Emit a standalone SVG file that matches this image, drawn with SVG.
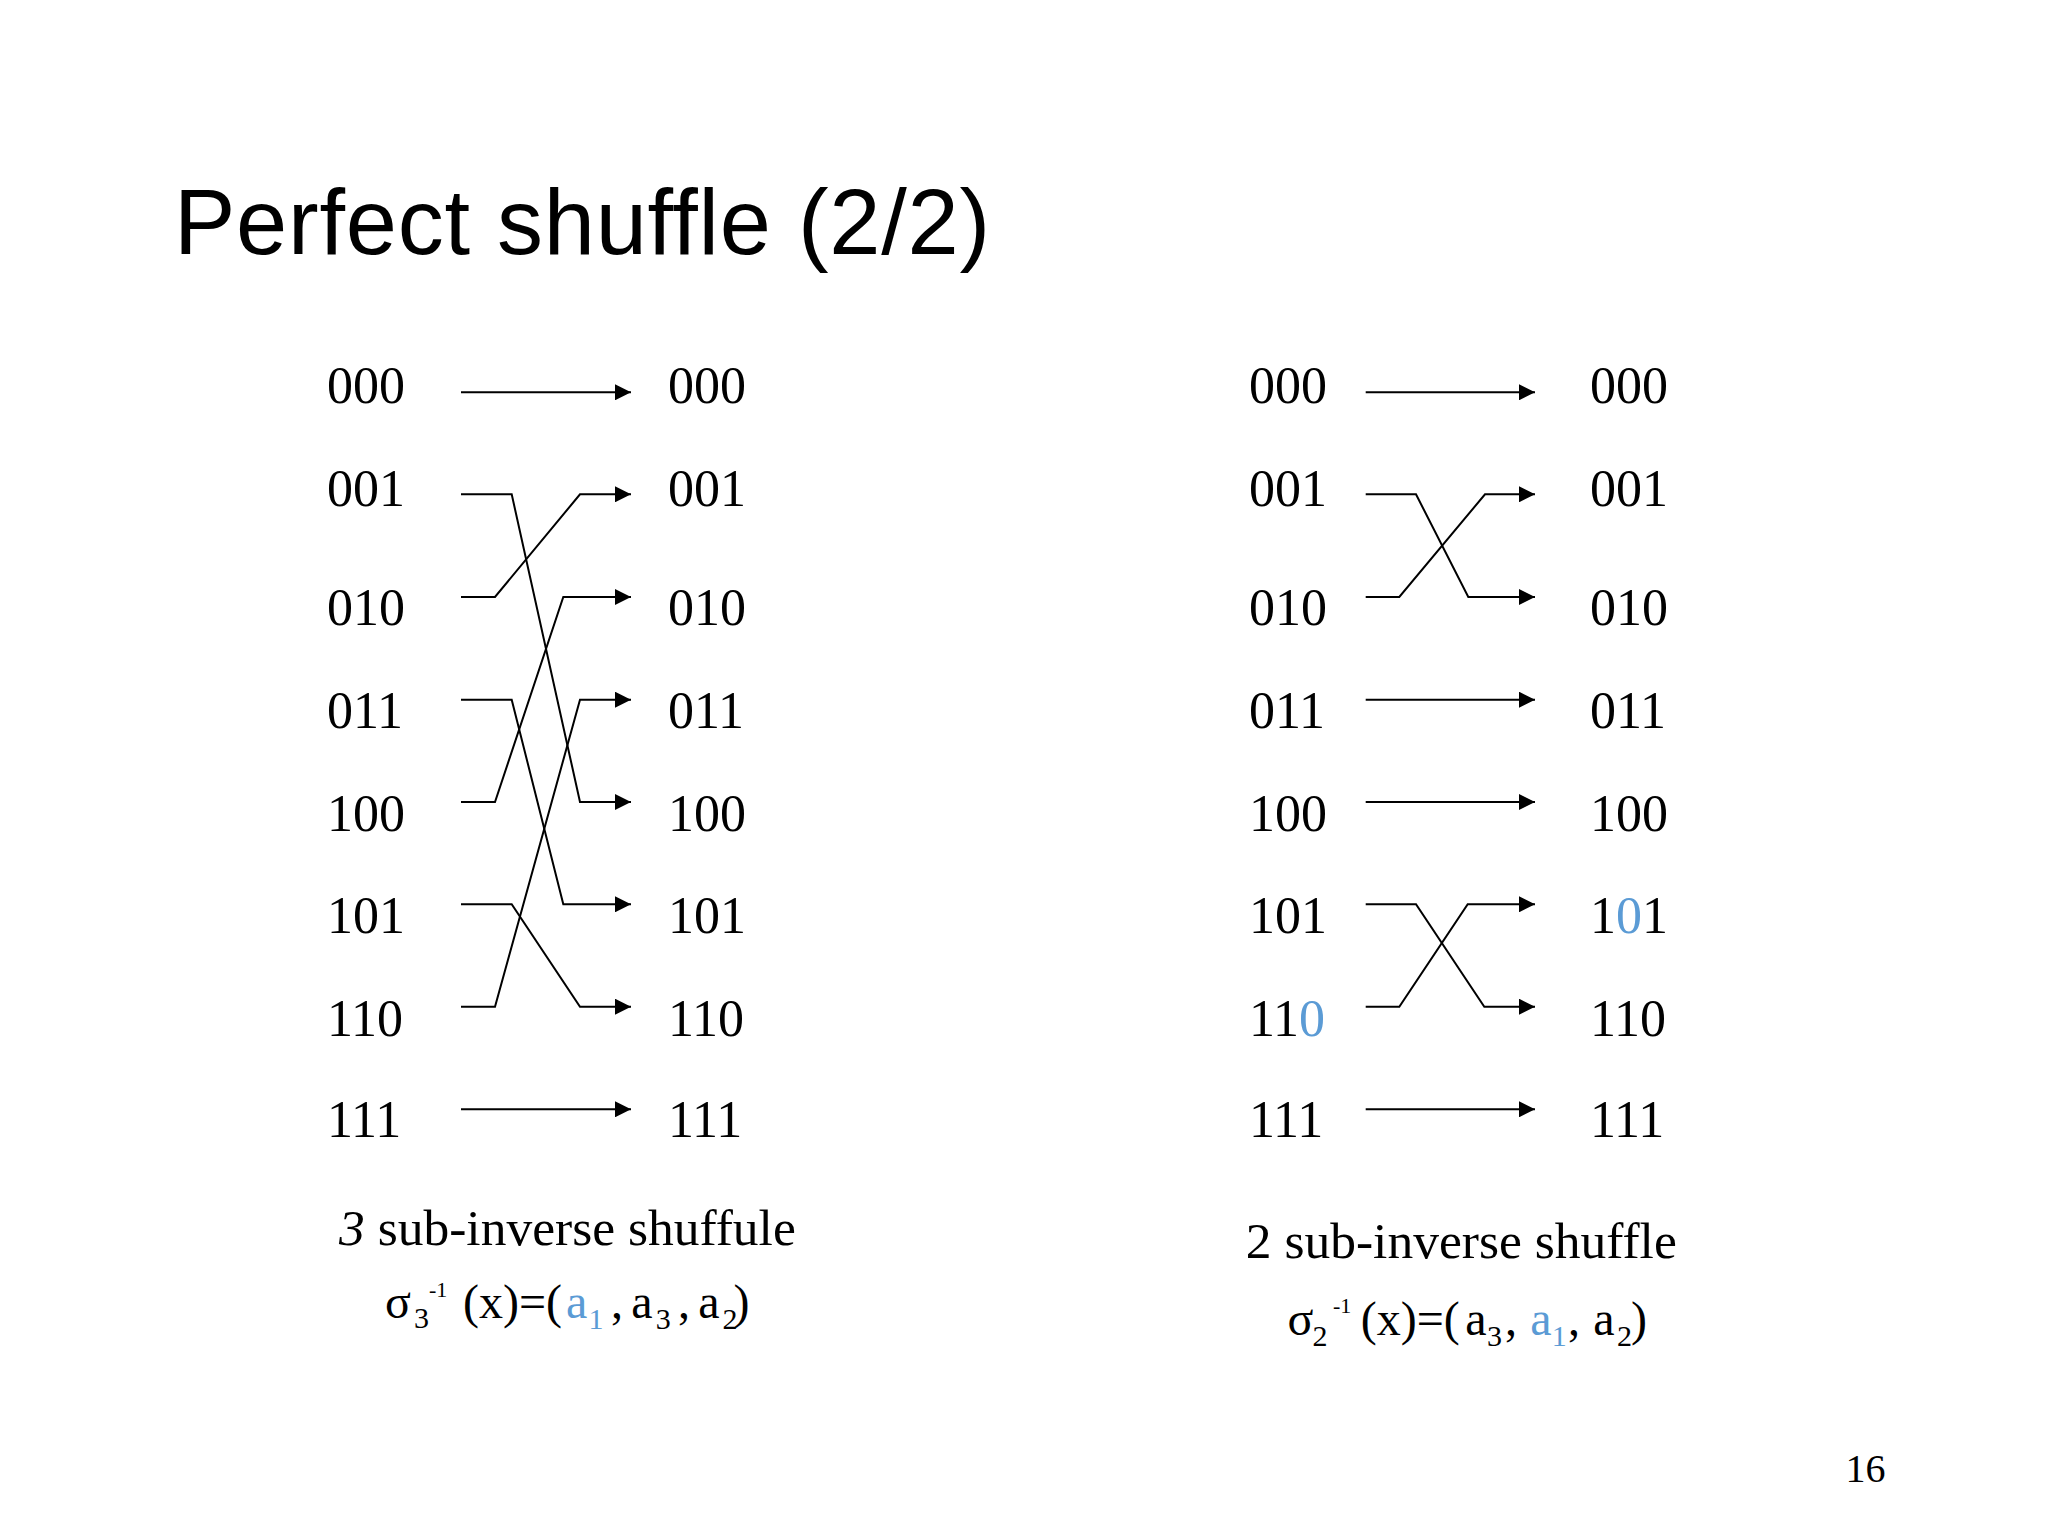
<svg xmlns="http://www.w3.org/2000/svg" width="2048" height="1536" viewBox="0 0 2048 1536">
<defs>
<style>
.t{font-family:"Liberation Serif","Times New Roman",serif;fill:#000}
.n{font-size:52px}
.cap{font-size:51.5px}
.f{font-size:48px}
.sub{font-size:30px}
.sup{font-size:22px}
.blue{fill:#5B9BD5}
.title{font-family:"Liberation Sans",Arial,sans-serif;font-size:92px;letter-spacing:0.75px;fill:#000}
.c{fill:none;stroke:#000;stroke-width:2;marker-end:url(#ah)}
</style>
<marker id="ah" viewBox="0 0 16 16" refX="16" refY="8" markerWidth="16" markerHeight="16" markerUnits="userSpaceOnUse" orient="auto">
<path d="M0,0 L16,8 L0,16 z" fill="#000"/>
</marker>
</defs>
<rect width="2048" height="1536" fill="#fff"/>
<text id="title" class="title" x="174" y="254">Perfect shuffle (2/2)</text>

<g id="left-inputs" class="t n">
<text id="L-in-000" x="327" y="403">000</text>
<text id="L-in-001" x="327" y="506">001</text>
<text id="L-in-010" x="327" y="625">010</text>
<text id="L-in-011" x="327" y="728">011</text>
<text id="L-in-100" x="327" y="831">100</text>
<text id="L-in-101" x="327" y="933">101</text>
<text id="L-in-110" x="327" y="1036">110</text>
<text id="L-in-111" x="327" y="1137">111</text>
</g>
<g id="left-outputs" class="t n">
<text id="L-out-000" x="668" y="403">000</text>
<text id="L-out-001" x="668" y="506">001</text>
<text id="L-out-010" x="668" y="625">010</text>
<text id="L-out-011" x="668" y="728">011</text>
<text id="L-out-100" x="668" y="831">100</text>
<text id="L-out-101" x="668" y="933">101</text>
<text id="L-out-110" x="668" y="1036">110</text>
<text id="L-out-111" x="668" y="1137">111</text>
</g>
<g id="right-inputs" class="t n">
<text id="R-in-000" x="1249" y="403">000</text>
<text id="R-in-001" x="1249" y="506">001</text>
<text id="R-in-010" x="1249" y="625">010</text>
<text id="R-in-011" x="1249" y="728">011</text>
<text id="R-in-100" x="1249" y="831">100</text>
<text id="R-in-101" x="1249" y="933">101</text>
<text id="R-in-110" x="1249" y="1036">11<tspan class="blue">0</tspan></text>
<text id="R-in-111" x="1249" y="1137">111</text>
</g>
<g id="right-outputs" class="t n">
<text id="R-out-000" x="1590" y="403">000</text>
<text id="R-out-001" x="1590" y="506">001</text>
<text id="R-out-010" x="1590" y="625">010</text>
<text id="R-out-011" x="1590" y="728">011</text>
<text id="R-out-100" x="1590" y="831">100</text>
<text id="R-out-101" x="1590" y="933">1<tspan class="blue">0</tspan>1</text>
<text id="R-out-110" x="1590" y="1036">110</text>
<text id="R-out-111" x="1590" y="1137">111</text>
</g>

<g id="connectors">
<g id="left-connectors">
<path class="c" d="M461,392.3 L631,392.3"/>
<path class="c" d="M461,494.3 L511.7,494.3 L580,802 L631,802"/>
<path class="c" d="M461,597 L495,597 L580,494.3 L631,494.3"/>
<path class="c" d="M461,699.7 L511.7,699.7 L563.3,904.3 L631,904.3"/>
<path class="c" d="M461,802 L495,802 L563.3,597 L631,597"/>
<path class="c" d="M461,904.3 L511.7,904.3 L580,1006.7 L631,1006.7"/>
<path class="c" d="M461,1006.7 L495,1006.7 L580,699.7 L631,699.7"/>
<path class="c" d="M461,1109.3 L631,1109.3"/>
</g>
<g id="right-connectors">
<path class="c" d="M1365.7,392.3 L1535,392.3"/>
<path class="c" d="M1365.7,494.3 L1416,494.3 L1468.3,597 L1535,597"/>
<path class="c" d="M1365.7,597 L1399.3,597 L1485,494.3 L1535,494.3"/>
<path class="c" d="M1365.7,699.7 L1535,699.7"/>
<path class="c" d="M1365.7,802 L1535,802"/>
<path class="c" d="M1365.7,904.3 L1416,904.3 L1484.3,1006.7 L1535,1006.7"/>
<path class="c" d="M1365.7,1006.7 L1399.3,1006.7 L1467.7,904.3 L1535,904.3"/>
<path class="c" d="M1365.7,1109.3 L1535,1109.3"/>
</g>
</g>

<g id="left-caption" class="t">
<text class="cap" x="339" y="1245"><tspan font-style="italic">3</tspan> sub-inverse shuffule</text>
<text class="f" y="1318"><tspan x="385">σ</tspan><tspan class="sub" x="414" y="1328">3</tspan><tspan class="sup" x="429" y="1296.5">-1</tspan><tspan x="463" y="1318">(x)=(</tspan><tspan class="blue" x="566">a</tspan><tspan class="sub blue" x="588.4" y="1329">1</tspan><tspan x="611" y="1318">,</tspan><tspan x="631.3">a</tspan><tspan class="sub" x="655.7" y="1329">3</tspan><tspan x="678" y="1318">,</tspan><tspan x="698.3">a</tspan><tspan class="sub" x="722.5" y="1329">2</tspan><tspan x="733.6" y="1318">)</tspan></text>
</g>
<g id="right-caption" class="t">
<text class="cap" x="1245.8" y="1258">2 sub-inverse shuffle</text>
<text class="f" y="1335"><tspan x="1287.6">σ</tspan><tspan class="sub" x="1312.5" y="1346">2</tspan><tspan class="sup" x="1333" y="1313">-1</tspan><tspan x="1360.7" y="1335">(x)=(</tspan><tspan x="1465.3">a</tspan><tspan class="sub" x="1487" y="1346">3</tspan><tspan x="1505" y="1335">,</tspan><tspan class="blue" x="1530.3">a</tspan><tspan class="sub blue" x="1551.7" y="1346">1</tspan><tspan x="1568" y="1335">,</tspan><tspan x="1593.3">a</tspan><tspan class="sub" x="1617" y="1346">2</tspan><tspan x="1631" y="1335">)</tspan></text>
</g>
<text id="page-number" class="t" x="1845.6" y="1482" font-size="40">16</text>
</svg>
